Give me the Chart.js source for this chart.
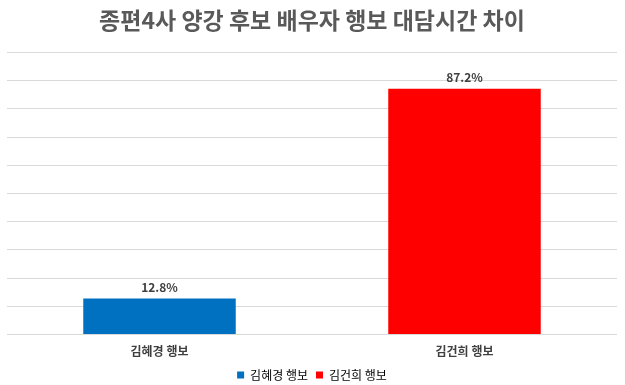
<!DOCTYPE html>
<html>
<head>
<meta charset="utf-8">
<script src="https://cdn.jsdelivr.net/npm/chart.js@4.4.1/dist/chart.umd.min.js"></script>
<style>
  html, body { margin: 0; padding: 0; background: #fff; }
  #wrap { width: 625px; height: 385px; }
</style>
</head>
<body>
<div id="wrap"><canvas id="myChart"></canvas></div>
<script>
  const categories = ['김혜경 행보', '김건희 행보'];
  const values = [12.8, 87.2];
  const barColors = ['#0070c0', '#ff0000'];
  const yTicks = [0, 10, 20, 30, 40, 50, 60, 70, 80, 90, 100];

  const FONT = "'Noto Sans CJK KR', 'Noto Sans', sans-serif";

  // draws the % labels above each bar
  const valueLabels = {
    id: 'valueLabels',
    afterDatasetsDraw(chart) {
      const ctx = chart.ctx;
      const meta = chart.getDatasetMeta(0);
      ctx.save();
      ctx.font = 'bold 12px ' + FONT;
      ctx.fillStyle = '#404040';
      ctx.textAlign = 'center';
      ctx.textBaseline = 'bottom';
      meta.data.forEach((bar, i) => {
        ctx.fillText(values[i].toFixed(1) + '%', bar.x, bar.y - 5);
      });
      ctx.restore();
    }
  };

  const ctx = document.getElementById('myChart').getContext('2d');
  const chart = new Chart(ctx, {
    type: 'bar',
    data: {
      labels: categories,
      datasets: [{
        data: values,
        backgroundColor: barColors,
        borderWidth: 0,
        barPercentage: 0.5,
        categoryPercentage: 1.0
      }]
    },
    options: {
      responsive: true,
      maintainAspectRatio: false,
      animation: false,
      layout: { padding: { left: 7, right: 8, top: 4, bottom: -6 } },
      scales: {
        x: {
          grid: { display: false },
          border: { display: false },
          ticks: {
            color: '#404040',
            font: { family: FONT, size: 12, weight: 'bold', lineHeight: 1.2 },
            padding: 2
          }
        },
        y: {
          min: 0,
          max: 100,
          afterBuildTicks: axis => { axis.ticks = yTicks.map(v => ({ value: v })); },
          grid: { color: '#d9d9d9', drawTicks: false },
          border: { display: false },
          ticks: { display: false }
        }
      },
      plugins: {
        title: {
          display: true,
          text: '종편4사 양강 후보 배우자 행보 대담시간 차이',
          color: '#595959',
          font: { family: FONT, size: 23, weight: 'bold' },
          padding: { top: 2, bottom: 19 }
        },
        legend: {
          position: 'bottom',
          labels: {
            color: '#595959',
            font: { family: FONT, size: 12 },
            usePointStyle: true,
            pointStyle: 'rect',
            boxWidth: 7,
            boxHeight: 7,
            padding: 8,
            generateLabels: () => categories.map((c, i) => ({
              text: c,
              fillStyle: barColors[i],
              strokeStyle: barColors[i],
              lineWidth: 0,
              pointStyle: 'rect',
              hidden: false,
              index: i
            }))
          }
        },
        tooltip: { enabled: false }
      }
    },
    plugins: [valueLabels]
  });
</script>
</body>
</html>
